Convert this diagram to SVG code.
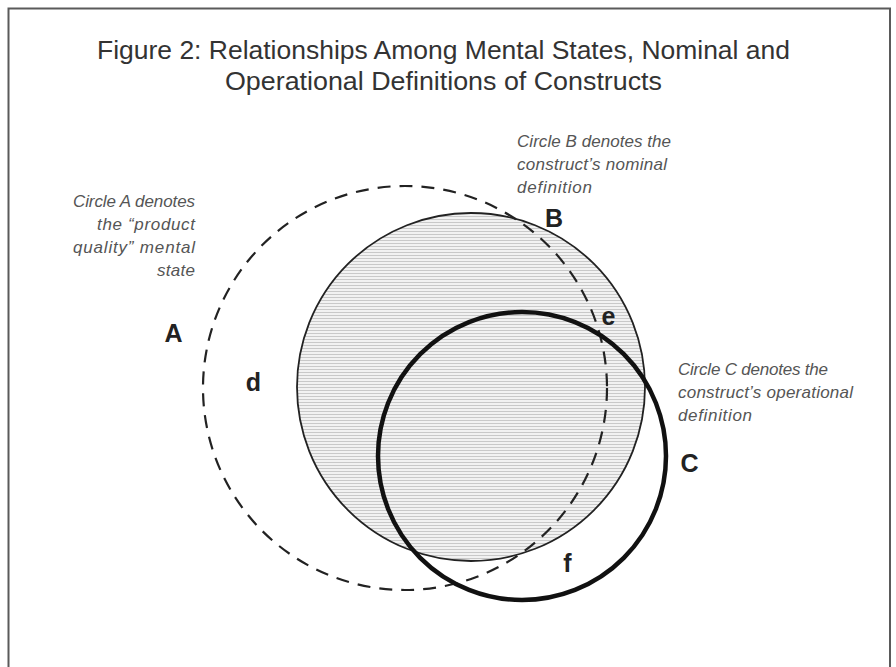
<svg xmlns="http://www.w3.org/2000/svg" width="896" height="667" viewBox="0 0 896 667">
  <defs>
    <pattern id="hatch" patternUnits="userSpaceOnUse" width="8" height="3">
      <rect x="0" y="0" width="8" height="3" fill="#f2f2f2"/>
      <rect x="0" y="0" width="8" height="1" fill="#c9c9c9"/>
    </pattern>
    <style>
      .frame { fill: none; stroke: #5a5a5a; stroke-width: 2; }
      .title { font-family: "Liberation Sans", Arial, sans-serif; font-size: 25px; fill: #333; text-anchor: middle; }
      .note { font-family: "Liberation Sans", Arial, sans-serif; font-style: italic; font-size: 17px; fill: #555; }
      .lbl { font-family: "Liberation Sans", Arial, sans-serif; font-weight: bold; font-size: 25px; fill: #222; text-anchor: middle; }
      .circA { fill: none; stroke: #222; stroke-width: 2.2; stroke-dasharray: 13 9; }
      .circB { fill: url(#hatch); stroke: #222; stroke-width: 1.8; }
      .circC { fill: none; stroke: #111; stroke-width: 4.5; }
    </style>
  </defs>
  <rect width="896" height="667" fill="#ffffff"/>
  <path class="frame" d="M8.5 667 V8.5 H890 V667"/>

  <g id="title">
    <text class="title" x="443.5" y="59" textLength="693" lengthAdjust="spacingAndGlyphs">Figure 2: Relationships Among Mental States, Nominal and</text>
    <text class="title" x="443.5" y="90" textLength="437" lengthAdjust="spacingAndGlyphs">Operational Definitions of Constructs</text>
  </g>

  <g id="circle-B">
    <circle class="circB" cx="471" cy="387" r="174"/>
  </g>
  <g id="circle-A">
    <circle class="circA" cx="405" cy="388" r="202"/>
  </g>
  <g id="circle-C">
    <circle class="circC" cx="522" cy="456" r="144"/>
  </g>

  <g id="note-A">
    <text class="note" text-anchor="end" x="195" y="207" textLength="122">Circle A denotes</text>
    <text class="note" text-anchor="end" x="195" y="230" textLength="98">the “product</text>
    <text class="note" text-anchor="end" x="195" y="253" textLength="122">quality” mental</text>
    <text class="note" text-anchor="end" x="195" y="276" textLength="38">state</text>
  </g>
  <g id="note-B">
    <text class="note" x="517" y="147" textLength="154">Circle B denotes the</text>
    <text class="note" x="517" y="170" textLength="150">construct’s nominal</text>
    <text class="note" x="517" y="193" textLength="75">definition</text>
  </g>
  <g id="note-C">
    <text class="note" x="678" y="375" textLength="150">Circle C denotes the</text>
    <text class="note" x="678" y="398" textLength="175">construct’s operational</text>
    <text class="note" x="678" y="421" textLength="74">definition</text>
  </g>

  <g id="labels">
    <text class="lbl" x="173.5" y="342">A</text>
    <text class="lbl" x="554" y="227">B</text>
    <text class="lbl" x="689.5" y="472">C</text>
    <text class="lbl" x="253.5" y="391">d</text>
    <text class="lbl" x="608.5" y="325">e</text>
    <text class="lbl" x="567.5" y="572">f</text>
  </g>
</svg>
